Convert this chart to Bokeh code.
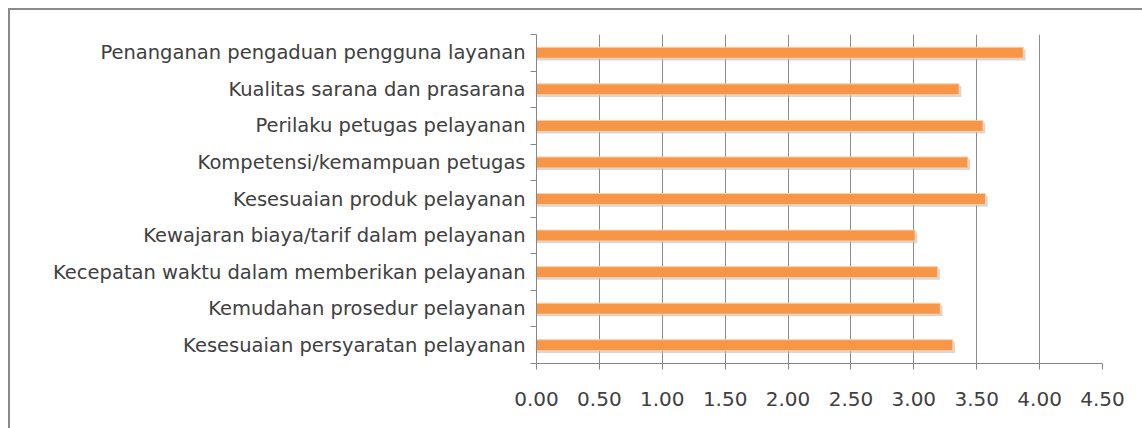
from bokeh.plotting import figure
from bokeh.models import FixedTicker, Range1d, ColumnDataSource
from bokeh.embed import file_html
from bokeh.resources import INLINE

# data, bottom-to-top order (as Excel plots it)
categories = [
    "Kesesuaian persyaratan pelayanan",
    "Kemudahan prosedur pelayanan",
    "Kecepatan waktu dalam memberikan pelayanan",
    "Kewajaran biaya/tarif dalam pelayanan",
    "Kesesuaian produk pelayanan",
    "Kompetensi/kemampuan petugas",
    "Perilaku petugas pelayanan",
    "Kualitas sarana dan prasarana",
    "Penanganan pengaduan pengguna layanan",
]
values = [3.31, 3.21, 3.19, 3.01, 3.57, 3.43, 3.55, 3.36, 3.87]
x_ticks = [0.0, 0.5, 1.0, 1.5, 2.0, 2.5, 3.0, 3.5, 4.0, 4.5]
x_tick_labels = ["0.00", "0.50", "1.00", "1.50", "2.00", "2.50", "3.00", "3.50", "4.00", "4.50"]

n = len(categories)
ypos = [i + 0.5 for i in range(n)]

src = ColumnDataSource(dict(
    y=ypos,
    v=values,
    ys=[y - 0.06 for y in ypos],
    vs=[v + 0.018 for v in values],
))

W, H = 1134, 420
p = figure(width=W, height=H, output_backend="svg", toolbar_location=None,
           x_range=Range1d(0, 4.5), y_range=Range1d(0, n),
           min_border_left=526, min_border_right=42,
           min_border_top=24, min_border_bottom=67)
p.styles = {"margin-left": "8px", "margin-top": "8px",
            "border-left": "2px solid #8a8a8a", "border-top": "2px solid #8a8a8a",
            "box-sizing": "border-box"}
p.outline_line_color = None
p.background_fill_color = "white"
p.border_fill_color = "white"

# shadow
p.hbar(y="ys", left=0, right="vs", height=0.30, source=src,
       fill_color="#b8b8b8", fill_alpha=0.55, line_color=None)
# bars
p.hbar(y="y", left=0, right="v", height=0.30, source=src,
       fill_color="#F79646", line_color="#FAD0AC", line_width=1)

# x axis
p.xaxis.ticker = FixedTicker(ticks=x_ticks, minor_ticks=[])
p.xaxis.major_label_overrides = {t: l for t, l in zip(x_ticks, x_tick_labels)}
p.xaxis.axis_line_color = "#868686"
p.xaxis.major_tick_line_color = "#868686"
p.xaxis.major_tick_out = 6
p.xaxis.major_tick_in = 0
p.xaxis.major_label_standoff = 22
p.xaxis.major_label_text_font = "DejaVu Sans"
p.xaxis.major_label_text_font_size = "20px"
p.xaxis.major_label_text_color = "#404040"

# y axis
p.yaxis.ticker = FixedTicker(ticks=ypos, minor_ticks=list(range(n + 1)))
p.yaxis.major_label_overrides = {y: c for y, c in zip(ypos, categories)}
p.yaxis.axis_line_color = "#868686"
p.yaxis.major_tick_line_color = None
p.yaxis.minor_tick_line_color = "#868686"
p.yaxis.minor_tick_out = 6
p.yaxis.minor_tick_in = 0
p.yaxis.major_label_standoff = 5
p.yaxis.major_label_text_font = "DejaVu Sans"
p.yaxis.major_label_text_font_size = "19.5px"
p.yaxis.major_label_text_color = "#404040"

p.xgrid.ticker = FixedTicker(ticks=x_ticks)
p.xgrid.grid_line_color = "#8c8c8c"
p.ygrid.grid_line_color = None

open("out.html", "w").write(file_html(p, INLINE))
